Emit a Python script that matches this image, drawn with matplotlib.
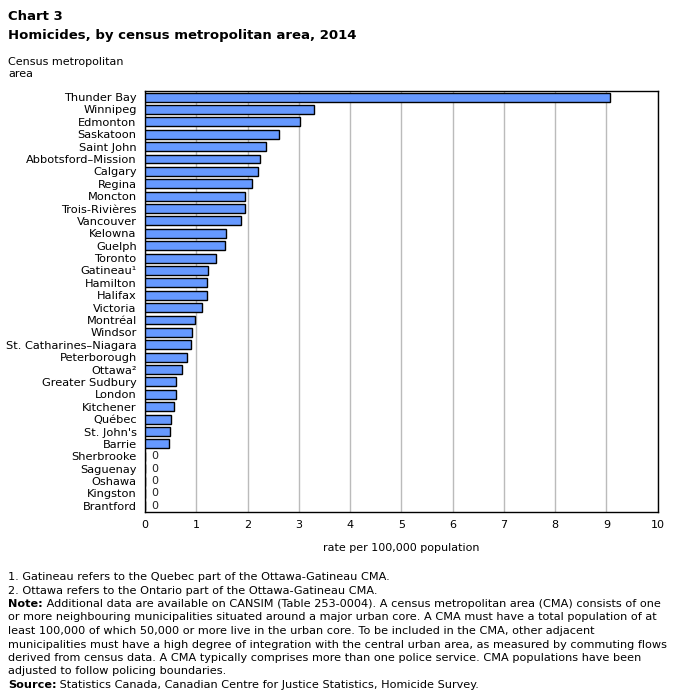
import numpy as np
import matplotlib
matplotlib.use('Agg')
import matplotlib.pyplot as plt

# data (rate per 100,000 population, 2014)
cmas = ['Thunder Bay', 'Winnipeg', 'Edmonton', 'Saskatoon', 'Saint John',
        'Abbotsford\u2013Mission', 'Calgary', 'Regina', 'Moncton',
        'Trois-Rivi\u00e8res', 'Vancouver', 'Kelowna', 'Guelph', 'Toronto',
        'Gatineau\u00b9', 'Hamilton', 'Halifax', 'Victoria', 'Montr\u00e9al',
        'Windsor', 'St. Catharines\u2013Niagara', 'Peterborough',
        'Ottawa\u00b2', 'Greater Sudbury', 'London', 'Kitchener',
        'Qu\u00e9bec', "St. John's", 'Barrie', 'Sherbrooke', 'Saguenay',
        'Oshawa', 'Kingston', 'Brantford']
rates = [9.06, 3.29, 3.02, 2.61, 2.36, 2.24, 2.20, 2.09, 1.95, 1.95, 1.87,
         1.58, 1.56, 1.38, 1.23, 1.21, 1.21, 1.11, 0.97, 0.92, 0.90, 0.82,
         0.72, 0.60, 0.60, 0.57, 0.51, 0.49, 0.47, 0, 0, 0, 0, 0]
xticks = list(range(0, 11))

plt.rcParams['font.family'] = ['DejaVu Sans']

fig = plt.figure(figsize=(6.76, 6.99), dpi=100)
ax = fig.add_axes([0.2145, 0.2675, 0.7585, 0.6025])

y = np.arange(len(cmas))
ax.barh(y, rates, height=0.72, color='#6699ff', edgecolor='black', linewidth=1.0, zorder=3)
for yi, r in zip(y, rates):
    if r == 0:
        ax.text(0.12, yi, '0', va='center', ha='left', fontsize=8, color='#222222')

ax.set_ylim(len(cmas) - 0.5, -0.5)
ax.set_xlim(0, 10)
ax.set_yticks(y)
ax.set_yticklabels(cmas, fontsize=8.2)
ax.set_xticks(xticks)
ax.set_xticklabels([str(t) for t in xticks], fontsize=8)
ax.tick_params(axis='both', length=0)
ax.tick_params(axis='y', pad=6)
ax.tick_params(axis='x', pad=6)
ax.grid(axis='x', color='#bbbbbb', linewidth=1.0, zorder=0)
for s in ax.spines.values():
    s.set_color('black')
    s.set_linewidth(1.0)

ax.set_xlabel('rate per 100,000 population', fontsize=8, labelpad=9)

fig.text(0.012, 0.985, 'Chart 3', fontsize=9.5, fontweight='bold', va='top')
fig.text(0.012, 0.958, 'Homicides, by census metropolitan area, 2014', fontsize=9.5,
         fontweight='bold', va='top')
fig.text(0.012, 0.918, 'Census metropolitan\narea', fontsize=8, va='top', linespacing=1.25)

notes = [
    ('', '1. Gatineau refers to the Quebec part of the Ottawa-Gatineau CMA.'),
    ('', '2. Ottawa refers to the Ontario part of the Ottawa-Gatineau CMA.'),
    ('Note:', ' Additional data are available on CANSIM (Table 253-0004). A census metropolitan area (CMA) consists of one'),
    ('', 'or more neighbouring municipalities situated around a major urban core. A CMA must have a total population of at'),
    ('', 'least 100,000 of which 50,000 or more live in the urban core. To be included in the CMA, other adjacent'),
    ('', 'municipalities must have a high degree of integration with the central urban area, as measured by commuting flows'),
    ('', 'derived from census data. A CMA typically comprises more than one police service. CMA populations have been'),
    ('', 'adjusted to follow policing boundaries.'),
    ('Source:', ' Statistics Canada, Canadian Centre for Justice Statistics, Homicide Survey.'),
]
y0 = 577
for i, (bold, rest) in enumerate(notes):
    yy = 1 - (y0 + i * 13.5) / 699
    x0 = 8 / 676
    if bold:
        t = fig.text(x0, yy, bold, fontsize=8.1, fontweight='bold', va='center')
        fig.canvas.draw()
        bb = t.get_window_extent()
        x0 = bb.x1 / fig.bbox.width
    fig.text(x0, yy, rest, fontsize=8.1, va='center')

fig.savefig('out.png', dpi=100)
